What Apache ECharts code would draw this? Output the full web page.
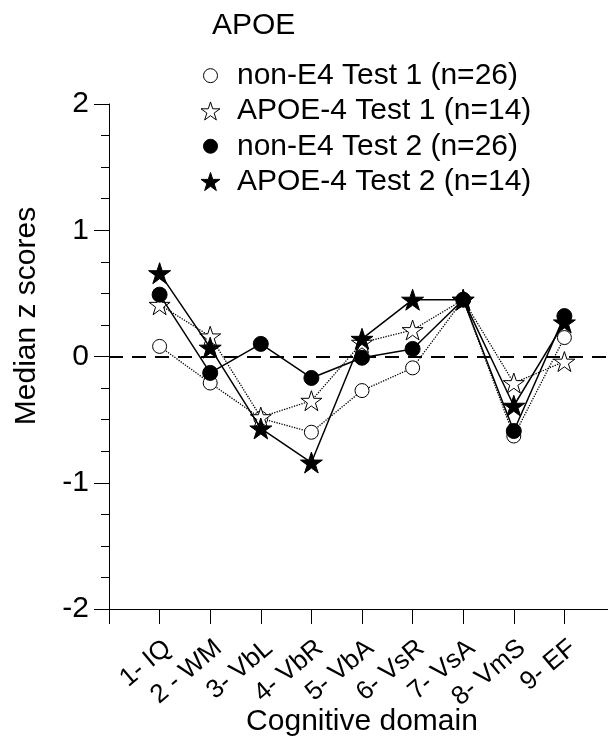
<!DOCTYPE html>
<html>
<head>
<meta charset="utf-8">
<script src="https://cdn.jsdelivr.net/npm/echarts@6/dist/echarts.min.js"></script>
<style>
  html, body { margin: 0; padding: 0; background: #fff; }
  #chart { width: 608px; height: 740px; }
</style>
</head>
<body>
<div id="chart"></div>
<script>
// Cognitive domains on the x axis (positions 1..9)
const domains = ['1- IQ', '2 - WM', '3- VbL', '4- VbR', '5- VbA', '6- VsR', '7- VsA', '8- VmS', '9- EF'];

// Median z scores per domain
const nonE4Test1  = [0.08, -0.21, -0.49, -0.60, -0.27, -0.09, 0.45, -0.63, 0.15];
const apoe4Test1  = [0.41,  0.16, -0.48, -0.35,  0.11,  0.21, 0.45, -0.21, -0.04];
const nonE4Test2  = [0.49, -0.13,  0.10, -0.17, -0.01,  0.06, 0.45, -0.59, 0.32];
const apoe4Test2  = [0.66,  0.07, -0.57, -0.84,  0.14,  0.45, 0.45, -0.39, 0.27];

const seriesNames = [
  'non-E4 Test 1 (n=26)',
  'APOE-4 Test 1 (n=14)',
  'non-E4 Test 2 (n=26)',
  'APOE-4 Test 2 (n=14)'
];

const yTicks = [-2, -1, 0, 1, 2];

const FONT = "'Liberation Sans', Arial, Helvetica, sans-serif";
const STAR = 'path://M50,0 L61.2,34.5 L97.6,34.5 L68.2,55.9 L79.4,90.5 L50,69.1 L20.6,90.5 L31.8,55.9 L2.4,34.5 L38.8,34.5 Z';
// circle icon padded inside a 19x19 box so the legend dot stays small
const LEGEND_DOT = 'path://M0,0 M19,19 M2.5,9.5 A7,7 0 1 1 16.5,9.5 A7,7 0 1 1 2.5,9.5 Z';

const toPoints = arr => arr.map((v, i) => [i + 1, v]);

const openStyle = { color: '#fff', borderColor: '#000', borderWidth: 1 };
const filledStyle = { color: '#000', borderColor: '#000', borderWidth: 1 };

const chart = echarts.init(document.getElementById('chart'), null, { renderer: 'canvas' });

chart.setOption({
  animation: false,
  backgroundColor: '#fff',
  textStyle: { fontFamily: FONT, color: '#000' },
  title: {
    text: 'APOE',
    left: 212,
    top: 11,
    padding: 0,
    textStyle: { fontFamily: FONT, fontSize: 30, fontWeight: 'normal', color: '#000', lineHeight: 30 }
  },
  legend: {
    orient: 'vertical',
    left: 200.5,
    top: 58,
    padding: 0,
    itemGap: 0,
    itemWidth: 19,
    itemHeight: 19,
    selectedMode: false,
    textStyle: { fontFamily: FONT, fontSize: 30, color: '#000', lineHeight: 35.3, padding: [0, 0, 0, 12] },
    data: [
      { name: seriesNames[0], icon: LEGEND_DOT, itemStyle: openStyle },
      { name: seriesNames[1], icon: STAR, itemStyle: openStyle },
      { name: seriesNames[2], icon: LEGEND_DOT, itemStyle: filledStyle },
      { name: seriesNames[3], icon: STAR, itemStyle: filledStyle }
    ]
  },
  grid: { left: 109, top: 104, width: 506, height: 505, containLabel: false, outerBoundsMode: 'none' },
  xAxis: {
    type: 'value',
    min: 0,
    max: 10,
    interval: 1,
    name: 'Cognitive domain',
    nameLocation: 'middle',
    nameGap: 98,
    nameMoveOverlap: false,
    nameTextStyle: { fontFamily: FONT, fontSize: 30, color: '#000' },
    axisLine: { onZero: false, lineStyle: { color: '#000', width: 1 } },
    axisTick: { length: 15, lineStyle: { color: '#000', width: 1 } },
    splitLine: { show: false },
    axisLabel: {
      rotate: 40,
      margin: 26,
      verticalAlign: 'top',
      fontFamily: FONT,
      fontSize: 26,
      color: '#000',
      showMinLabel: true,
      showMaxLabel: true,
      formatter: v => (v >= 1 && v <= domains.length) ? domains[v - 1] : ''
    }
  },
  yAxis: {
    type: 'value',
    min: yTicks[0],
    max: yTicks[yTicks.length - 1],
    interval: 1,
    axisLine: { show: true, onZero: false, lineStyle: { color: '#000', width: 1 } },
    axisTick: { show: true, length: 15, lineStyle: { color: '#000', width: 1 } },
    minorTick: { show: true, splitNumber: 4, length: 8, lineStyle: { color: '#000', width: 1 } },
    splitLine: { show: false },
    axisLabel: {
      margin: 20,
      fontFamily: FONT,
      fontSize: 30,
      color: '#000',
      formatter: v => String(v)
    }
  },
  graphic: [
    {
      type: 'text',
      x: 27,
      y: 316,
      rotation: Math.PI / 2,
      style: {
        text: 'Median z scores',
        font: '30px ' + FONT,
        fill: '#000',
        align: 'center',
        verticalAlign: 'middle'
      }
    }
  ],
  series: [
    {
      name: seriesNames[0],
      type: 'line',
      data: toPoints(nonE4Test1),
      symbol: 'circle',
      symbolSize: 14,
      itemStyle: openStyle,
      lineStyle: { color: '#000', width: 1.3, type: 'dotted' },
      z: 2,
      markLine: {
        silent: true,
        symbol: 'none',
        label: { show: false },
        lineStyle: { color: '#000', width: 2, type: [14, 9] },
        data: [{ yAxis: 0 }]
      }
    },
    {
      name: seriesNames[1],
      type: 'line',
      data: toPoints(apoe4Test1),
      symbol: STAR,
      symbolKeepAspect: true,
      symbolSize: 21,
      itemStyle: openStyle,
      lineStyle: { color: '#000', width: 1.3, type: 'dotted' },
      z: 3
    },
    {
      name: seriesNames[2],
      type: 'line',
      data: toPoints(nonE4Test2),
      symbol: 'circle',
      symbolSize: 15,
      itemStyle: filledStyle,
      lineStyle: { color: '#000', width: 1.5, type: 'solid' },
      z: 4
    },
    {
      name: seriesNames[3],
      type: 'line',
      data: toPoints(apoe4Test2),
      symbol: STAR,
      symbolKeepAspect: true,
      symbolSize: 22,
      itemStyle: filledStyle,
      lineStyle: { color: '#000', width: 1.5, type: 'solid' },
      z: 5
    }
  ]
});
</script>
</body>
</html>
